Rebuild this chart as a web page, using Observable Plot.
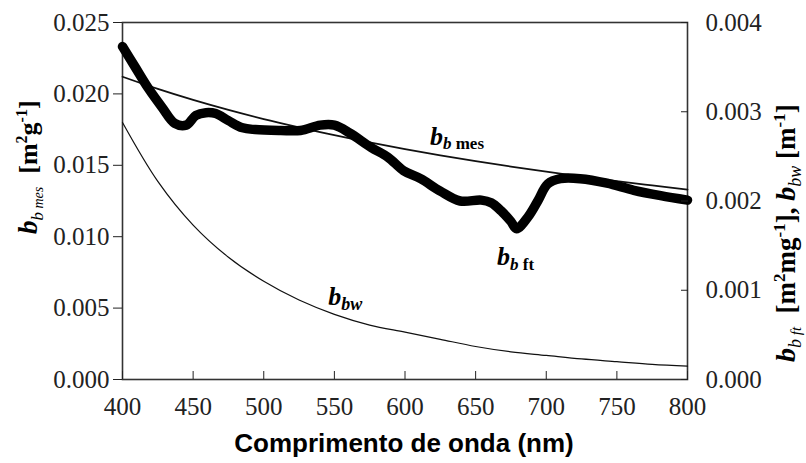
<!DOCTYPE html>
<html><head><meta charset="utf-8">
<script src="https://cdn.jsdelivr.net/npm/d3@7"></script>
<script src="https://cdn.jsdelivr.net/npm/@observablehq/plot@0.6"></script>
<style>body{margin:0;background:#fff}</style>
</head><body><div id="chart"></div>
<script>
// wavelength grid (nm) for the smooth curves
const wlGrid = [400,425,450,475,500,525,550,575,600,625,650,675,700,725,750,775,800];
// b_b mes [m2 g-1] (left axis)
const bbMes = [0.02120,0.02035,0.01958,0.01888,0.01824,0.01766,0.01711,0.01661,0.01614,0.01570,0.01529,0.01491,0.01455,0.01421,0.01389,0.01359,0.01330];
// b_bw [m-1] (right axis)
const bbw = [0.00288,0.00222,0.00173,0.00137,0.00110,0.00089,0.00073,0.00061,0.00053,0.00045,0.00037,0.00031,0.00027,0.00023,0.00020,0.00017,0.00015];
// b_b ft [m2 mg-1] (right axis)
const ftWl = [400,409,418,428,437,445,452,459,466,475,485,494,512,526,540,550,561,576,588,599,611,625,639,654,661,668,675,679,687,694,701,710,724,743,762,781,800];
const bbFt = [0.00373,0.00350,0.00327,0.00305,0.00287,0.00285,0.00296,0.00299,0.00298,0.00290,0.00282,0.00280,0.00279,0.00279,0.00285,0.00285,0.00276,0.00260,0.00249,0.00234,0.00225,0.00211,0.00200,0.00201,0.00198,0.00189,0.00177,0.00169,0.00182,0.00200,0.00219,0.00225,0.00225,0.00220,0.00212,0.00206,0.00201];
const xTicks = [400,450,500,550,600,650,700,750,800];
const leftTicks = [0,0.005,0.010,0.015,0.020,0.025];
const rightTicks = [0,0.001,0.002,0.003,0.004];
const RATIO = 0.025/0.004;

const mesData = wlGrid.map((w,i)=>({w, v:bbMes[i]}));
const bbwData = wlGrid.map((w,i)=>({w, v:bbw[i]*RATIO}));
const ftData = ftWl.map((w,i)=>({w, v:bbFt[i]*RATIO}));

const serif = "'Liberation Serif', 'Times New Roman', serif";

const chart = Plot.plot({
  width:806, height:463,
  marginLeft:122, marginRight:119, marginTop:22, marginBottom:84,
  style:{fontFamily:serif, fontSize:"25px", color:"#222", background:"#fff"},
  x:{domain:[400,800]},
  y:{domain:[0,0.025]},
  marks:[
    Plot.frame({stroke:"#333", strokeWidth:1.6}),
    Plot.line(bbwData,{x:"w", y:"v", stroke:"#111", strokeWidth:1.2, curve:"catmull-rom"}),
    Plot.line(mesData,{x:"w", y:"v", stroke:"#111", strokeWidth:1.8, curve:"catmull-rom"}),
    Plot.line(ftData,{x:"w", y:"v", stroke:"#000", strokeWidth:9.5, curve:"catmull-rom", strokeLinecap:"round", strokeLinejoin:"round"}),
    Plot.axisY({ticks:leftTicks, tickSize:9, tickPadding:4, tickFormat:d3.format(".3f"), label:null, fontSize:25}),
    Plot.axisY({anchor:"right", ticks:rightTicks.map(t=>t*RATIO), tickSize:-7, tickPadding:25, tickFormat:d=>d3.format(".3f")(d/RATIO), label:null, fontSize:25}),
    Plot.axisX({ticks:xTicks, tickSize:-8, tickPadding:26, tickFormat:d=>String(d), label:null, fontSize:25})
  ]
});
document.getElementById("chart").appendChild(chart);

const svg = d3.select(chart);
// serif tick labels
svg.selectAll("text").style("font-family", serif).style("font-size", "25px").attr("fill", "#222");

const xs = v=>chart.scale("x").apply(v);
const ys = v=>chart.scale("y").apply(v);

function label(x, y, parts, rotate){
  const t = svg.append("text").style("font-family", serif).attr("fill","#000")
    .attr("text-anchor","start");
  if (rotate) t.attr("transform", `translate(${x},${y}) rotate(-90)`);
  else t.attr("x", x).attr("y", y);
  for (const p of parts){
    const s = t.append("tspan").text(p.t).style("font-size", p.s+"px");
    if (p.i) s.style("font-style","italic");
    if (p.b) s.style("font-weight","bold");
    if (p.dy) s.attr("dy", p.dy);
  }
  return t;
}

// curve labels (positioned in data space)
label(xs(618), ys(0.01639), [
  {t:"b", s:26, i:1, b:1}, {t:"b", s:17, i:1, b:1, dy:4}, {t:" mes", s:17, b:1}
]);
label(xs(665.5), ys(0.00798), [
  {t:"b", s:26, i:1, b:1}, {t:"b", s:17, i:1, b:1, dy:5}, {t:" ft", s:17, b:1}
]);
label(xs(546), ys(0.00518), [
  {t:"b", s:26, i:1, b:1}, {t:"bw", s:18, i:1, b:1, dy:5}
]);

// left axis title
label(37, 234, [
  {t:"b", s:27, i:1, b:1}, {t:"b", s:17, i:1, dy:6}, {t:" mes", s:14, i:1},
  {t:"  [m", s:26, b:1, dy:-6}, {t:"2", s:16, b:1, dy:-10}, {t:"g", s:26, b:1, dy:10},
  {t:"-1", s:16, b:1, dy:-10}, {t:"]", s:26, b:1, dy:10}
], true);

// right axis title
label(795, 362, [
  {t:"b", s:28, i:1, b:1}, {t:"b", s:18, i:1, dy:6}, {t:" ft", s:15, i:1},
  {t:"  [m", s:27, b:1, dy:-6}, {t:"2", s:17, b:1, dy:-10}, {t:"mg", s:27, b:1, dy:10},
  {t:"-1", s:17, b:1, dy:-10}, {t:"], ", s:27, b:1, dy:10},
  {t:"b", s:28, i:1, b:1}, {t:"bw", s:18, i:1, dy:6},
  {t:" [m", s:27, b:1, dy:-6}, {t:"-1", s:17, b:1, dy:-10}, {t:"]", s:27, b:1, dy:10}
], true);

// x axis title
svg.append("text").attr("x", 404).attr("y", 452).attr("text-anchor","middle")
  .style("font-family","'Liberation Sans', Arial, sans-serif").style("font-weight","bold")
  .style("font-size","26px").attr("fill","#000").text("Comprimento de onda (nm)");
</script>
</body></html>
